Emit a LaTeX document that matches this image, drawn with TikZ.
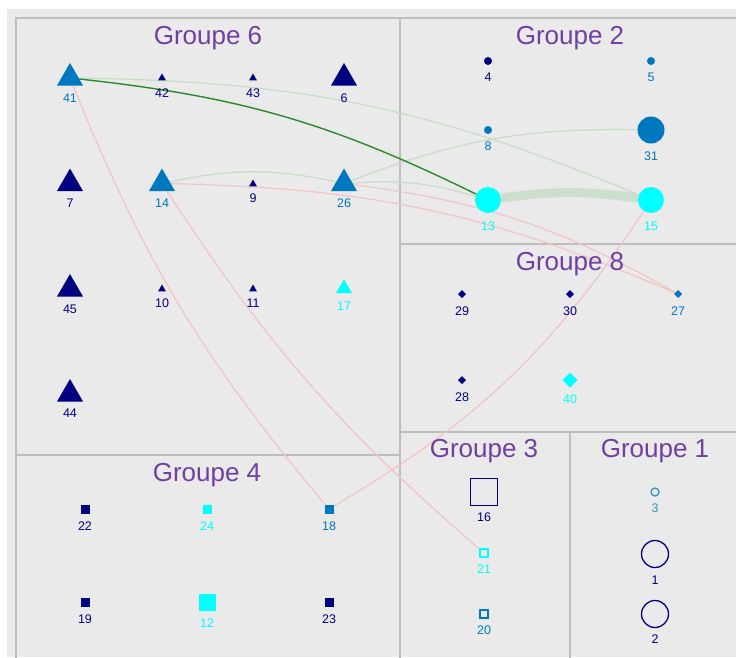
\documentclass[tikz,border=0pt]{standalone}
\usepackage{fontspec}
\setmainfont{Liberation Sans}
\usetikzlibrary{shapes.geometric}
\pgfdeclarelayer{bg}
\pgfdeclarelayer{edges}
\pgfsetlayers{bg,edges,main}
\definecolor{navyc}{HTML}{000080}
\definecolor{bluec}{HTML}{0078C0}
\definecolor{lbluec}{HTML}{2E93CE}
\definecolor{cyanc}{HTML}{00FFFF}
\definecolor{titlec}{HTML}{7040A0}
\definecolor{bgc}{HTML}{EAEAEA}
\definecolor{framec}{HTML}{BDBDBD}
\definecolor{lgreen}{HTML}{C6DCC6}
\definecolor{thickg}{HTML}{CCDFCC}
\definecolor{lred}{HTML}{F2C4C4}
\definecolor{dgreen}{HTML}{2A8A2A}
\begin{document}
\begin{tikzpicture}[x=1pt,y=-1pt,
  tri/.style={regular polygon, regular polygon sides=3, inner sep=0pt, outer sep=0pt, draw=none},
  bigtri/.style={tri, minimum size=30pt},
  midtri/.style={tri, minimum size=18.5pt},
  smalltri/.style={tri, minimum size=9pt},
  dot/.style={circle, inner sep=0pt, outer sep=0pt, draw=none, minimum size=#1},
  ring/.style={circle, inner sep=0pt, outer sep=0pt, line width=1.3pt, fill=bgc, minimum size=#1},
  dia/.style={diamond, inner sep=0pt, outer sep=0pt, draw=none, minimum size=#1},
  fsq/.style={rectangle, inner sep=0pt, outer sep=0pt, draw=none, minimum size=#1},
  osq/.style={rectangle, inner sep=0pt, outer sep=0pt, line width=1.3pt, fill=bgc, minimum size=#1},
  lab/.style={inner sep=0pt, font=\fontsize{12.5}{12.5}\selectfont},
  title/.style={anchor=base, inner sep=0pt, text=titlec, font=\fontsize{26}{26}\selectfont},
  frame/.style={draw=framec, line width=1.2pt},
  gline/.style={draw=lgreen, line width=1.2pt},
  rline/.style={draw=lred, line width=1.2pt},
  dgline/.style={draw=dgreen, line width=1.4pt},
  thickline/.style={draw=thickg, line width=9pt}
]
\useasboundingbox (0,0) rectangle (736,657);
\begin{pgfonlayer}{bg}
  \fill[white] (0,0) rectangle (736,657);
  \fill[bgc] (7,9) rectangle (736,657);
  \draw[frame] (16,18) rectangle (400,455);
  \draw[frame] (400,18) rectangle (742,244);
  \draw[frame] (400,244) rectangle (742,432);
  \draw[frame] (400,432) rectangle (570,662);
  \draw[frame] (570,432) rectangle (742,662);
  \draw[frame] (16,455) rectangle (400,662);
\end{pgfonlayer}

% titles
\node[title] (t6) at (208,44) {Groupe 6};
\node[title] (t2) at (570,44) {Groupe 2};
\node[title] (t8) at (570,270) {Groupe 8};
\node[title] (t4) at (207,481) {Groupe 4};
\node[title] (t3) at (484,457) {Groupe 3};
\node[title] (t1) at (655,457) {Groupe 1};

% Groupe 6
\node[bigtri, fill=bluec] (n41) at (70,78) {};
\node[lab, text=bluec] (l41) at (70,98) {41};
\node[smalltri, fill=navyc] (n42) at (162,78) {};
\node[lab, text=navyc] (l42) at (162,93) {42};
\node[smalltri, fill=navyc] (n43) at (253,78) {};
\node[lab, text=navyc] (l43) at (253,93) {43};
\node[bigtri, fill=navyc] (n6) at (344,78) {};
\node[lab, text=navyc] (l6) at (344,98) {6};
\node[bigtri, fill=navyc] (n7) at (70,183.5) {};
\node[lab, text=navyc] (l7) at (70,203) {7};
\node[bigtri, fill=bluec] (n14) at (162,183.5) {};
\node[lab, text=bluec] (l14) at (162,203) {14};
\node[smalltri, fill=navyc] (n9) at (253,184) {};
\node[lab, text=navyc] (l9) at (253,198) {9};
\node[bigtri, fill=bluec] (n26) at (344,183.5) {};
\node[lab, text=bluec] (l26) at (344,203) {26};
\node[bigtri, fill=navyc] (n45) at (70,289) {};
\node[lab, text=navyc] (l45) at (70,309) {45};
\node[smalltri, fill=navyc] (n10) at (162,289) {};
\node[lab, text=navyc] (l10) at (162,303) {10};
\node[smalltri, fill=navyc] (n11) at (253,289) {};
\node[lab, text=navyc] (l11) at (253,303) {11};
\node[midtri, fill=cyanc] (n17) at (344,288.5) {};
\node[lab, text=cyanc] (l17) at (344,306) {17};
\node[bigtri, fill=navyc] (n44) at (70,394) {};
\node[lab, text=navyc] (l44) at (70,413) {44};

% Groupe 2
\node[dot=8pt, fill=navyc] (n4) at (488,61) {};
\node[lab, text=navyc] (l4) at (488,77) {4};
\node[dot=8pt, fill=bluec] (n5) at (651,61) {};
\node[lab, text=bluec] (l5) at (651,77) {5};
\node[dot=8pt, fill=bluec] (n8) at (488,130) {};
\node[lab, text=bluec] (l8) at (488,146) {8};
\node[dot=27pt, fill=bluec] (n31) at (651,130) {};
\node[lab, text=bluec] (l31) at (651,156) {31};
\node[dot=26pt, fill=cyanc] (n13) at (488,200) {};
\node[lab, text=cyanc] (l13) at (488,226) {13};
\node[dot=26pt, fill=cyanc] (n15) at (651,200) {};
\node[lab, text=cyanc] (l15) at (651,226) {15};

% Groupe 8
\node[dia=8pt, fill=navyc] (n29) at (462,294) {};
\node[lab, text=navyc] (l29) at (462,311) {29};
\node[dia=8pt, fill=navyc] (n30) at (570,294) {};
\node[lab, text=navyc] (l30) at (570,311) {30};
\node[dia=8pt, fill=bluec] (n27) at (678,294) {};
\node[lab, text=bluec] (l27) at (678,311) {27};
\node[dia=8pt, fill=navyc] (n28) at (462,380) {};
\node[lab, text=navyc] (l28) at (462,397) {28};
\node[dia=15pt, fill=cyanc] (n40) at (570,380) {};
\node[lab, text=cyanc] (l40) at (570,399) {40};

% Groupe 3
\node[osq=27pt, draw=navyc] (n16) at (484,492) {};
\node[lab, text=navyc] (l16) at (484,517) {16};
\node[osq=8pt, draw=cyanc] (n21) at (484,553) {};
\node[lab, text=cyanc] (l21) at (484,569) {21};
\node[osq=8pt, draw=bluec] (n20) at (484,614) {};
\node[lab, text=bluec] (l20) at (484,630) {20};

% Groupe 1
\node[ring=8pt, draw=lbluec] (n3) at (655,492) {};
\node[lab, text=lbluec] (l3) at (655,508) {3};
\node[ring=27pt, draw=navyc] (n1) at (655,554) {};
\node[lab, text=navyc] (l1) at (655,580) {1};
\node[ring=27pt, draw=navyc] (n2) at (655,614) {};
\node[lab, text=navyc] (l2) at (655,639) {2};

% Groupe 4
\node[fsq=9pt, fill=navyc] (n22) at (85,509) {};
\node[lab, text=navyc] (l22) at (85,526) {22};
\node[fsq=9pt, fill=cyanc] (n24) at (207,509) {};
\node[lab, text=cyanc] (l24) at (207,526) {24};
\node[fsq=9pt, fill=bluec] (n18) at (329,509) {};
\node[lab, text=bluec] (l18) at (329,526) {18};
\node[fsq=9pt, fill=navyc] (n19) at (85,602) {};
\node[lab, text=navyc] (l19) at (85,619) {19};
\node[fsq=17pt, fill=cyanc] (n12) at (207,602) {};
\node[lab, text=cyanc] (l12) at (207,623) {12};
\node[fsq=9pt, fill=navyc] (n23) at (329,602) {};
\node[lab, text=navyc] (l23) at (329,619) {23};

% connectors
\begin{pgfonlayer}{edges}
  \draw[gline] (n41) to[bend left=11] (n15);
  \draw[gline] (n14) to[bend left=12] (n26);
  \draw[gline] (n26) to[bend left=11] (n31);
  \draw[gline] (n26) to[bend left=10] (n13);
  \draw[thickline] (n13) to[bend left=8] (n15);
  \draw[rline] (n14) to[bend left=11] (n27);
  \draw[rline] (n26) to[bend left=11] (n27);
  \draw[rline] (n41) to[bend right=9] (n18);
  \draw[rline] (n14) to[bend right=8] (n21);
  \draw[rline] (n15) to[bend left=13] (n18);
  \draw[dgline] (n41) to[bend left=10] (n13);
\end{pgfonlayer}
\end{tikzpicture}
\end{document}
